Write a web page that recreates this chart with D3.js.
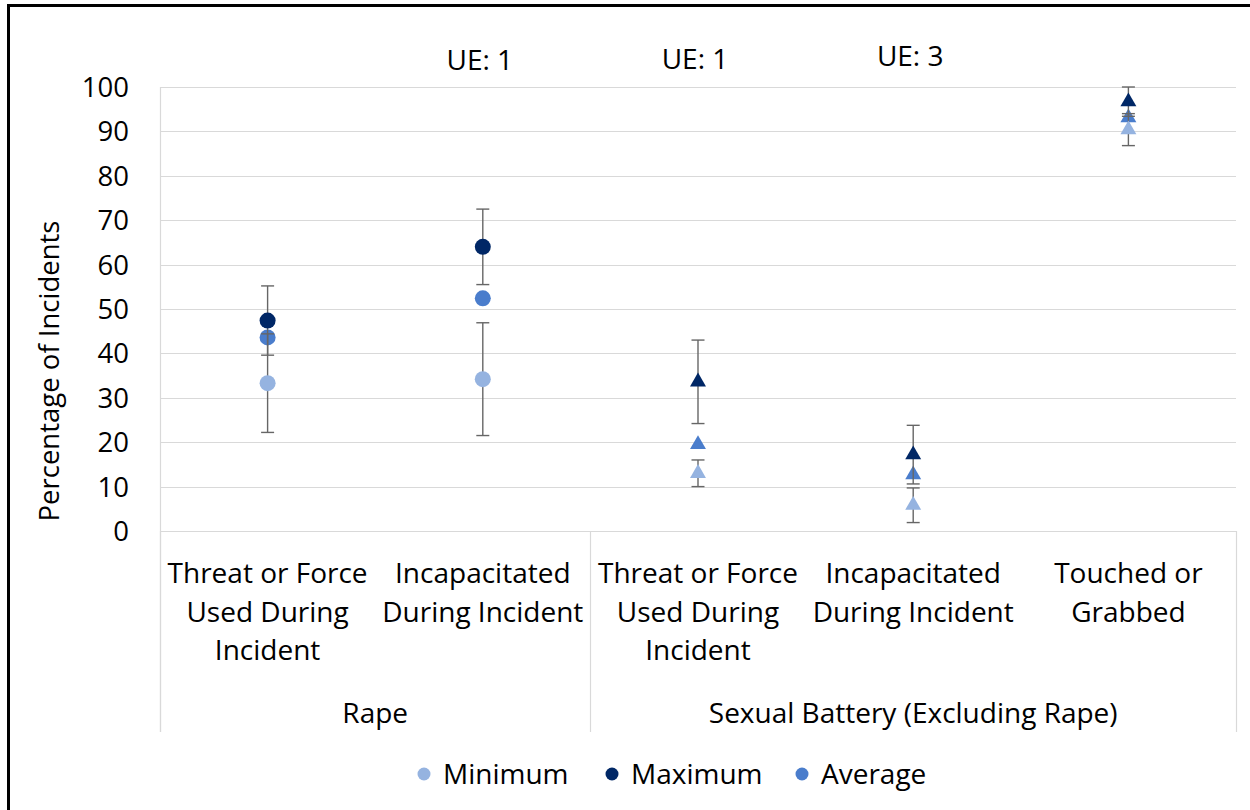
<!DOCTYPE html>
<html>
<head>
<meta charset="utf-8">
<script src="https://cdn.jsdelivr.net/npm/d3@7"></script>
<style>
  html, body { margin: 0; padding: 0; background: #fff; }
  svg { display: block; }
  text { font-family: "Open Sans", "Noto Sans", sans-serif; fill: #000; }
</style>
</head>
<body>
<svg id="chart" width="1250" height="810"></svg>
<script>
// ---- data ----
const categoryLines = [
  ["Threat or Force", "Used During", "Incident"],
  ["Incapacitated", "During Incident"],
  ["Threat or Force", "Used During", "Incident"],
  ["Incapacitated", "During Incident"],
  ["Touched or", "Grabbed"]
];
const groupOf = ["Rape", "Rape", "Sexual Battery (Excluding Rape)", "Sexual Battery (Excluding Rape)", "Sexual Battery (Excluding Rape)"];
const groupNames = ["Rape", "Sexual Battery (Excluding Rape)"];
const minimum = [33.3, 34.2, 13.0, 5.8, 90.4];
const maximum = [47.4, 64.0, 33.6, 17.2, 96.7];
const average = [43.6, 52.4, 19.5, 12.7, 93.1];
const minErr  = [11.1, 12.7, 3.0, 3.9, 3.6];
const maxErr  = [7.8, 8.5, 9.4, 6.6, 3.3];
const yTicks = [0, 10, 20, 30, 40, 50, 60, 70, 80, 90, 100];
const ueLabels = [
  { cat: 1, text: "UE: 1", y: 106.0 },
  { cat: 2, text: "UE: 1", y: 106.3 },
  { cat: 3, text: "UE: 3", y: 107.0 }
];
const seriesNames = ["Minimum", "Maximum", "Average"];
const colors = { Minimum: "#95b3e0", Maximum: "#002766", Average: "#4a7dcc" };

// ---- layout ----
const svg = d3.select("#chart");
const pLeft = 160, pRight = 1236, pTop = 87, pBottom = 531;
const x = d3.scaleBand().domain(d3.range(categoryLines.length)).range([pLeft, pRight]).padding(0);
const y = d3.scaleLinear().domain([0, 100]).range([pBottom, pTop]);
const gridColor = "#d9d9d9";
const errColor = "#666666";
const fs = "28px";

// frame
svg.append("rect").attr("x", 8.5).attr("y", 5.5).attr("width", 1400).attr("height", 1000)
  .attr("fill", "none").attr("stroke", "#000").attr("stroke-width", 3);

// gridlines
svg.append("g").selectAll("line").data(yTicks).join("line")
  .attr("x1", pLeft).attr("x2", pRight)
  .attr("y1", d => Math.round(y(d)) + 0.5).attr("y2", d => Math.round(y(d)) + 0.5)
  .attr("stroke", gridColor).attr("stroke-width", 1.2);

// y axis line
svg.append("line").attr("x1", pLeft + 0.5).attr("x2", pLeft + 0.5).attr("y1", pTop).attr("y2", 732)
  .attr("stroke", gridColor).attr("stroke-width", 1.2);

// group dividers
const groupBounds = [];
groupNames.forEach(g => {
  const idx = groupOf.map((v, i) => v === g ? i : -1).filter(i => i >= 0);
  groupBounds.push({ name: g, x0: x(idx[0]), x1: x(idx[idx.length - 1]) + x.bandwidth() });
});
const dividers = [...new Set(groupBounds.flatMap(b => [b.x0, b.x1]))];
svg.append("g").selectAll("line").data(dividers).join("line")
  .attr("x1", d => Math.round(d) + 0.5).attr("x2", d => Math.round(d) + 0.5)
  .attr("y1", pBottom).attr("y2", 732)
  .attr("stroke", gridColor).attr("stroke-width", 1.2);

// y tick labels
svg.append("g").selectAll("text").data(yTicks).join("text")
  .attr("x", 129).attr("y", d => y(d)).attr("dy", "0.36em")
  .attr("text-anchor", "end").style("font-size", "27.5px").text(d => d);

// y axis title
svg.append("text").attr("transform", `translate(59,371) rotate(-90)`)
  .attr("text-anchor", "middle").style("font-size", "27.5px").text("Percentage of Incidents");

// category labels
const catG = svg.append("g");
categoryLines.forEach((lines, i) => {
  const t = catG.append("text").attr("text-anchor", "middle").style("font-size", fs);
  lines.forEach((ln, j) => {
    t.append("tspan").attr("x", x(i) + x.bandwidth() / 2).attr("y", 583 + j * 38.5).text(ln);
  });
});

// group labels
svg.append("g").selectAll("text").data(groupBounds).join("text")
  .attr("x", d => (d.x0 + d.x1) / 2).attr("y", 723)
  .attr("text-anchor", "middle").style("font-size", fs).text(d => d.name);

// UE labels
svg.append("g").selectAll("text").data(ueLabels).join("text")
  .attr("x", d => x(d.cat) + x.bandwidth() / 2 - 3).attr("y", d => y(d.y)).attr("dy", "0.36em")
  .attr("text-anchor", "middle").style("font-size", fs).text(d => d.text);

// marker helper
const isTri = i => groupOf[i] !== "Rape";
const triPath = d3.symbol().type(d3.symbolTriangle).size(110)();
function drawMarkers(g, vals, color) {
  vals.forEach((v, i) => {
    const cx = x(i) + x.bandwidth() / 2, cy = y(v);
    if (isTri(i)) {
      g.append("path").attr("d", triPath).attr("transform", `translate(${cx},${cy})`).attr("fill", color);
    } else {
      g.append("circle").attr("cx", cx).attr("cy", cy).attr("r", 8).attr("fill", color);
    }
  });
}
function drawErr(g, vals, errs) {
  vals.forEach((v, i) => {
    const cx = x(i) + x.bandwidth() / 2;
    const hi = Math.min(100, v + errs[i]), lo = v - errs[i];
    g.append("line").attr("x1", cx).attr("x2", cx).attr("y1", y(hi)).attr("y2", y(lo))
      .attr("stroke", errColor).attr("stroke-width", 1.4);
    [hi, lo].forEach(val => {
      if (v + errs[i] > 100 && val === hi) return;
      g.append("line").attr("x1", cx - 6.5).attr("x2", cx + 6.5).attr("y1", y(val)).attr("y2", y(val))
        .attr("stroke", errColor).attr("stroke-width", 1.4);
    });
  });
}

const plot = svg.append("g");
drawMarkers(plot.append("g"), average, colors.Average);
drawErr(plot.append("g"), minimum, minErr);
drawMarkers(plot.append("g"), minimum, colors.Minimum);
drawErr(plot.append("g"), maximum, maxErr);
drawMarkers(plot.append("g"), maximum, colors.Maximum);

// legend
const legendX = [424, 612, 802];
const lg = svg.append("g");
seriesNames.forEach((s, i) => {
  lg.append("circle").attr("cx", legendX[i]).attr("cy", 774).attr("r", 6.5).attr("fill", colors[s]);
  lg.append("text").attr("x", legendX[i] + 19).attr("y", 774).attr("dy", "0.36em")
    .style("font-size", fs).text(s);
});
</script>
</body>
</html>
